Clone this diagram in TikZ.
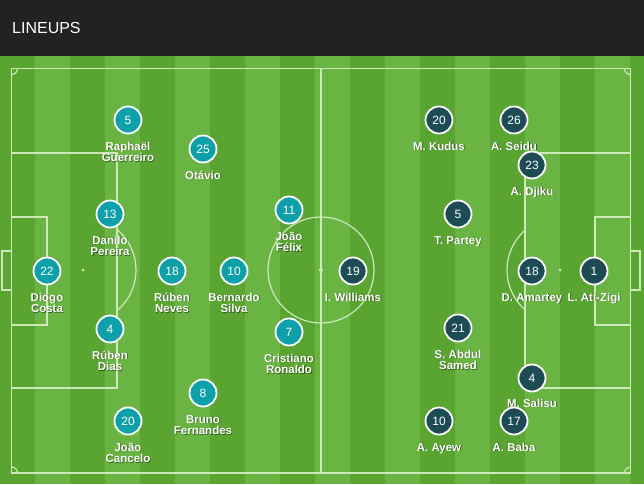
\documentclass[tikz,border=0pt]{standalone}
\usepackage{fontspec}
\setmainfont{Liberation Sans}
\definecolor{hdr}{RGB}{34,34,34}
\definecolor{grassdark}{RGB}{90,165,50}
\definecolor{grasslight}{RGB}{106,180,67}
\definecolor{pline}{RGB}{205,232,185}
\definecolor{portugal}{RGB}{14,160,168}
\definecolor{ghana}{RGB}{29,76,85}
% name under a disc, with a soft shadow
\newcommand{\pname}[4]{%
  \node[lblshadow] (#1s) at (#2+0.8,#3+0.8) {#4};
  \node[lbl] (#1) at (#2,#3) {#4};}
\begin{document}
\begin{tikzpicture}[x=1pt,y=-1pt]
\tikzset{
  every node/.style={inner sep=0pt},
  markline/.style={draw=pline, line width=1.2pt},
  por/.style={circle, fill=portugal, draw=white, line width=1.8pt, minimum size=27pt,
    text=white, font=\fontsize{12}{12}\selectfont},
  gha/.style={por, fill=ghana},
  lbl/.style={anchor=base, text=white, font=\fontsize{11.5}{12}\selectfont\bfseries},
  lblshadow/.style={lbl, text=black, opacity=0.45},
}
\useasboundingbox (0,0) rectangle (644,484);
% header
\fill[hdr] (0,0) rectangle (644,56);
\node[anchor=base west, text=white, font=\fontsize{16}{16}\selectfont] (title) at (12,34) {LINEUPS};
% grass
\fill[grassdark] (0,56) rectangle (644,484);
\foreach \i in {1,3,...,17}
  \fill[grasslight] (35*\i,56) rectangle (35*\i+35,484);
% pitch marks
\draw[markline] (11.5,68.5) rectangle (630.5,473);
\draw[markline] (321,68.5) -- (321,473);
\draw[markline] (321,270) circle (53pt);
\fill[pline] (321,270) circle (2pt);
\begin{scope}
  \clip (11.5,68.5) rectangle (630.5,473);
  \foreach \cx/\cy in {11.5/68.5,630.5/68.5,11.5/473,630.5/473}
    \draw[markline] (\cx,\cy) circle (6pt);
\end{scope}
% left end
\draw[markline] (11.5,153) rectangle (117,388);
\draw[markline] (11.5,217) rectangle (47,325);
\draw[markline] (2,251) rectangle (11.5,290);
\fill[pline] (83,270) circle (1.5pt);
\begin{scope}
  \clip (117,150) rectangle (200,390);
  \draw[markline] (83,270) circle (53pt);
\end{scope}
% right end
\draw[markline] (525,153) rectangle (630.5,388);
\draw[markline] (595,217) rectangle (630.5,325);
\draw[markline] (630.5,251) rectangle (640,290);
\fill[pline] (560,270) circle (1.5pt);
\begin{scope}
  \clip (440,150) rectangle (525,390);
  \draw[markline] (560,270) circle (53pt);
\end{scope}
% Portugal
\node[por] (p5) at (128,120) {5};
\pname{p5a}{128}{150}{Raphaël}
\pname{p5b}{128}{161.5}{Guerreiro}
\node[por] (p25) at (203,149) {25};
\pname{p25a}{203}{179}{Otávio}
\node[por] (p13) at (110,214) {13};
\pname{p13a}{110}{244}{Danilo}
\pname{p13b}{110}{255.5}{Pereira}
\node[por] (p22) at (47,271) {22};
\pname{p22a}{47}{301}{Diogo}
\pname{p22b}{47}{312.5}{Costa}
\node[por] (p18) at (172,271) {18};
\pname{p18a}{172}{301}{Rúben}
\pname{p18b}{172}{312.5}{Neves}
\node[por] (p10) at (234,271) {10};
\pname{p10a}{234}{301}{Bernardo}
\pname{p10b}{234}{312.5}{Silva}
\node[por] (p11) at (289,210) {11};
\pname{p11a}{289}{240}{João}
\pname{p11b}{289}{251.5}{Félix}
\node[por] (p4) at (110,329) {4};
\pname{p4a}{110}{359}{Rúben}
\pname{p4b}{110}{370.5}{Dias}
\node[por] (p7) at (289,332) {7};
\pname{p7a}{289}{362}{Cristiano}
\pname{p7b}{289}{373.5}{Ronaldo}
\node[por] (p8) at (203,393) {8};
\pname{p8a}{203}{423}{Bruno}
\pname{p8b}{203}{434.5}{Fernandes}
\node[por] (p20) at (128,421) {20};
\pname{p20a}{128}{451}{João}
\pname{p20b}{128}{462.5}{Cancelo}
% Ghana
\node[gha] (g20) at (439,120) {20};
\pname{g20a}{439}{150}{M. Kudus}
\node[gha] (g26) at (514,120) {26};
\pname{g26a}{514}{150}{A. Seidu}
\node[gha] (g23) at (532,165) {23};
\pname{g23a}{532}{195}{A. Djiku}
\node[gha] (g5) at (458,214) {5};
\pname{g5a}{458}{244}{T. Partey}
\node[gha] (g19) at (353,271) {19};
\pname{g19a}{353}{301}{I. Williams}
\node[gha] (g18) at (532,271) {18};
\pname{g18a}{532}{301}{D. Amartey}
\node[gha] (g1) at (594,271) {1};
\pname{g1a}{594}{301}{L. Ati-Zigi}
\node[gha] (g21) at (458,328) {21};
\pname{g21a}{458}{358}{S. Abdul}
\pname{g21b}{458}{369.5}{Samed}
\node[gha] (g4) at (532,378) {4};
\pname{g4a}{532}{407}{M. Salisu}
\node[gha] (g10) at (439,421) {10};
\pname{g10a}{439}{451}{A. Ayew}
\node[gha] (g17) at (514,421) {17};
\pname{g17a}{514}{451}{A. Baba}
\end{tikzpicture}
\end{document}
